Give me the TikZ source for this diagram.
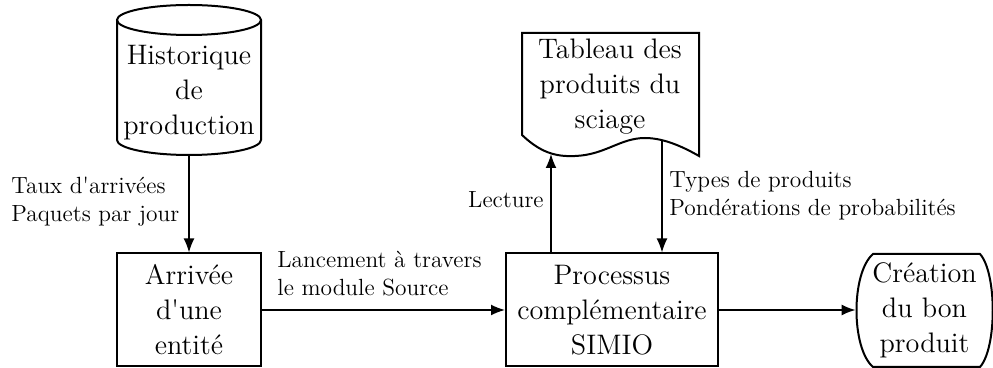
\documentclass[tikz,border=0pt]{standalone}
\usetikzlibrary{arrows.meta}
\newcommand\boxfont{\fontsize{14.1pt}{17.5pt}\selectfont}
\newcommand\labelfont{\fontsize{11.7pt}{14pt}\selectfont}
\newcommand\q{\textquotesingle}
\begin{document}
\begin{tikzpicture}[x=0.5pt,y=-0.5pt,
  outline/.style={draw,line width=1pt},
  boxtext/.style={align=center,font=\boxfont,inner sep=0pt},
  stepbox/.style={outline,align=center,font=\boxfont,inner sep=2pt,minimum height=56.5pt},
  flow/.style={line width=0.8pt,-{Latex[length=7pt,width=5.5pt]}},
  lbl/.style={align=left,font=\labelfont,inner sep=0pt}]
\useasboundingbox (0,0) rectangle (993,368);

% production history store (cylinder)
\draw[outline] (189,20) ellipse [x radius=72, y radius=15];
\draw[outline] (117,20) -- (117,140) arc[start angle=180,end angle=0,x radius=72,y radius=15] -- (261,20);
\node[boxtext] (hist) at (189,93) {Historique\\de\\production};
\coordinate (histbase) at (189,155);

% sawing products table (document)
\draw[outline] (522,135) -- (522,33) -- (699,33) -- (699,156)
  .. controls (685,148) and (665,138) .. (645,138)
  .. controls (620,138) and (605,155) .. (575,156)
  .. controls (555,157) and (540,152) .. (522,135) -- cycle;
\node[boxtext] (doc) at (610,87) {Tableau des\\produits du\\sciage};
\coordinate (docL) at (551,154);
\coordinate (docR) at (662,140);

% process steps
\node[stepbox,minimum width=72pt] (arr) at (189,310) {Arrivée\\d\q une\\entité};
\node[stepbox,minimum width=106pt] (proc) at (612,310) {Processus\\complémentaire\\SIMIO};

% terminal step with bowed sides
\node[boxtext,minimum width=68.5pt,minimum height=56.5pt] (cre) at (924.5,310) {Création\\du bon\\produit};
\draw[outline] (873,254) -- (980,254)
  .. controls (997,273) and (997,348) .. (980,367) -- (873,367)
  .. controls (851,348) and (851,273) .. (873,254) -- cycle;

% connectors
\draw[flow] (histbase) -- (arr.north);
\draw[flow] (arr.east) -- (proc.west);
\draw[flow] (proc.north -| docL) -- (docL);
\draw[flow] (docR) -- (proc.north -| docR);
\draw[flow] (proc.east) -- (cre.west);

% connector labels
\node[lbl,anchor=west] (l1) at (11,202) {Taux d\q arrivées\\Paquets par jour};
\node[lbl,anchor=west] (l2) at (277,274) {Lancement à travers\\le module Source};
\node[lbl,anchor=east] (l3) at (544,200) {Lecture};
\node[lbl,anchor=west] (l4) at (669,196) {Types de produits\\Pondérations de probabilités};
\end{tikzpicture}
\end{document}
